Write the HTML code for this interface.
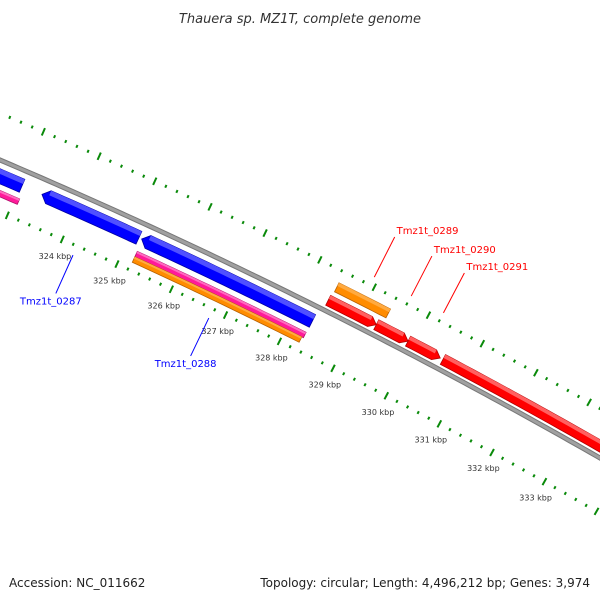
<!DOCTYPE html>
<html><head><meta charset="utf-8"><style>
html,body{margin:0;padding:0;background:#fff;width:600px;height:600px;overflow:hidden}
svg{display:block;font-family:"DejaVu Sans","Liberation Sans",sans-serif;overflow:hidden}
</style></head><body>
<svg id="map" width="600" height="600" viewBox="0 0 600 600" xmlns="http://www.w3.org/2000/svg">
<text x="300" y="23" text-anchor="middle" font-size="13" font-style="italic" fill="#333">Thauera sp. MZ1T, complete genome</text>
<g id="plot"></g>
<text x="9" y="587" font-size="12" fill="#222">Accession: NC_011662</text>
<text x="590" y="587" text-anchor="end" font-size="12" fill="#222">Topology: circular; Length: 4,496,212 bp; Genes: 3,974</text>
</svg>
<script>
// data (kbp)
const tickLabels = [324,325,326,327,328,329,330,331,332,333];
const geneNames = ["Tmz1t_0286a","Tmz1t_0286b","Tmz1t_0287","Tmz1t_0288","Tmz1t_0288p","Tmz1t_0288o","Tmz1t_0289","Tmz1t_0289r","Tmz1t_0290","Tmz1t_0291","Tmz1t_0292"];
const geneStarts = [320.5,320.5,323.39,325.2,325.22,325.22,328.45,328.42,329.31,329.9,330.55];
const geneEnds   = [323.03,323.08,325.15,328.34,328.33,328.3,329.4,329.31,329.9,330.5,337];
const geneTracks = ["blue","pink","blue","blue","pink","orange","orangeOut","red","red","red","red"];
const geneStrand = [0,0,-1,-1,0,0,0,1,1,1,1];
const labeledGenes = ["Tmz1t_0287","Tmz1t_0288","Tmz1t_0289","Tmz1t_0290","Tmz1t_0291"];
const labelGeneIdx = [2,3,6,8,9];

const NS="http://www.w3.org/2000/svg";
const CX=-2232, CY=5407, R0=5702;
const A0=-66.06, K0=324, DEG_PER_KBP=0.6078;
function ang(k){return (A0+(k-K0)*DEG_PER_KBP)*Math.PI/180;}
function pt(r,a){return [CX+r*Math.cos(a), CY+r*Math.sin(a)];}
function arcPts(r,a1,a2){const n=Math.max(2,Math.ceil(Math.abs(a2-a1)*r/8));const out=[];for(let i=0;i<=n;i++){out.push(pt(r,a1+(a2-a1)*i/n));}return out;}
function fmt(P){return P.map(p=>p[0].toFixed(2)+","+p[1].toFixed(2)).join(" ");}
const plot=document.getElementById('plot');
function mk(tag,attrs){const e=document.createElementNS(NS,tag);for(const k in attrs)e.setAttribute(k,attrs[k]);plot.appendChild(e);return e;}
const tracks={
 blue:{r1:R0-22,r2:R0-8,c:"#0000ff",l:"#5050ff",d:"#0000a0"},
 pink:{r1:R0-34,r2:R0-28,c:"#ff1a9a",l:"#ff6ac0",d:"#b0106a"},
 orange:{r1:R0-40,r2:R0-34,c:"#ff8c00",l:"#ffaa40",d:"#b86000"},
 orangeOut:{r1:R0+21,r2:R0+31,c:"#ff8c00",l:"#ffaa40",d:"#b86000"},
 red:{r1:R0+5,r2:R0+16,c:"#ff0000",l:"#ff6060",d:"#b00000"}
};
// backbone
(function(){
 const P=arcPts(R0,ang(320.5),ang(335));
 for(const [w,c] of [[5,"#777"],[3,"#a0a0a0"]]){
  const e=mk('polyline',{points:fmt(P),fill:"none",stroke:c,"stroke-width":w});
  
  
 }
})();
// ticks
const RIN=R0-48, ROUT=R0+43;
for(let i=0;i<=100;i++){
 const k=318+i*0.2; const major=(i%5===0);
 const a=ang(k);
 for(const r of [RIN,ROUT]){
  const len=major?8:3;
  const p1=pt(r-len/2,a),p2=pt(r+len/2,a);
  if(Math.max(p1[0],p2[0])<-10||Math.min(p1[0],p2[0])>610||Math.max(p1[1],p2[1])<-10||Math.min(p1[1],p2[1])>610) continue;
  const e=mk('line',{x1:p1[0],y1:p1[1],x2:p2[0],y2:p2[1],stroke:"#0a8a0a","stroke-width":2});
  
  
 }
}
tickLabels.forEach(k=>{
 const p=pt(R0-66,ang(k));
 const t=mk('text',{x:p[0],y:p[1]+3,"text-anchor":"middle","font-size":"8",fill:"#333"});
 t.textContent=k+" kbp";
 
 
});
// genes
function genePts(a1,a2,r1,r2,strand){
 const hd=7/R0;
 const rm=(r1+r2)/2;
 if(strand===1){
  const b=Math.max(a1,a2-hd);
  return arcPts(r2,a1,b).concat([pt(rm,a2)],arcPts(r1,b,a1));
 }else if(strand===-1){
  const b=Math.min(a2,a1+hd);
  return [pt(rm,a1)].concat(arcPts(r2,b,a2),arcPts(r1,a2,b));
 }
 return arcPts(r2,a1,a2).concat(arcPts(r1,a2,a1));
}
geneNames.forEach((n,i)=>{
 const tr=tracks[geneTracks[i]];
 const a1=ang(geneStarts[i]),a2=ang(geneEnds[i]);
 const g=mk('polygon',{points:fmt(genePts(a1,a2,tr.r1,tr.r2,geneStrand[i])),fill:tr.c,stroke:tr.d,"stroke-width":0.8});
 
 
 const th=(tr.r2-tr.r1)*0.35;
 const hd=7/R0;
 const b1=geneStrand[i]===-1?a1+hd:a1, b2=geneStrand[i]===1?a2-hd:a2;
 const h=mk('polygon',{points:fmt(genePts(b1,b2,tr.r2-th,tr.r2,0)),fill:tr.l});
 
 
});
// gene labels
labeledGenes.forEach((n,j)=>{
 const i=labelGeneIdx[j];
 const k=(geneStarts[i]+geneEnds[i])/2;
 const a=ang(k);
 const inner=geneStrand[i]<=0 && geneTracks[i]!=="orangeOut";
 const rA=inner?R0-58:R0+52, rB=inner?R0-100:R0+97;
 const col=inner?"#0000ff":"#ff0000";
 const p1=pt(rA,a),p2=pt(rB,a);
 const l=mk('line',{x1:p1[0],y1:p1[1],x2:p2[0],y2:p2[1],stroke:col,"stroke-width":1});
 
 
 const t=mk('text',inner?{x:p2[0]-5,y:p2[1]+11,"text-anchor":"middle","font-size":"10",fill:col}:{x:p2[0]+2,y:p2[1]-3,"font-size":"10",fill:col});
 t.textContent=n;
 
 
});
</script>
</body></html>
